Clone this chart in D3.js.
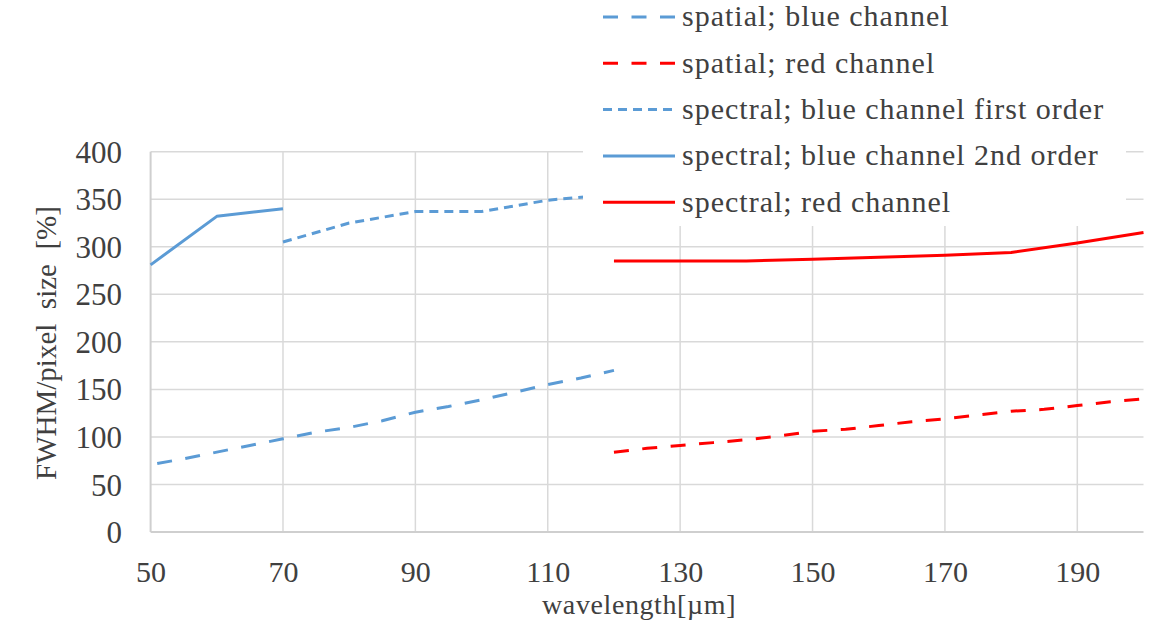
<!DOCTYPE html>
<html><head><meta charset="utf-8">
<script src="https://cdn.jsdelivr.net/npm/d3@7"></script>
<style>
html,body{margin:0;padding:0;background:#fff;}
svg{display:block;}
text{font-family:"Liberation Serif","Times New Roman","DejaVu Serif",serif;fill:#404040;}
</style></head>
<body>
<svg id="chart" width="1158" height="620"></svg>
<script>
// ---- data ----
const xTicks = [50, 70, 90, 110, 130, 150, 170, 190];
const yTicks = [0, 50, 100, 150, 200, 250, 300, 350, 400];
const xLabel = "wavelength[\u00b5m]";
const yLabel = "FWHM/pixel  size  [%]";

const spatialBlueX = [51, 55, 60, 65, 70, 75, 80, 85, 90, 95, 100, 105, 110, 115, 120];
const spatialBlueY = [72, 77, 84, 91, 98, 105, 110, 117, 126, 132, 139, 147, 155, 162, 170];

const spatialRedX = [120, 125, 130, 135, 140, 145, 150, 155, 160, 165, 170, 175, 180, 185, 190, 195, 200];
const spatialRedY = [84, 88, 91, 94, 97, 101, 106, 108, 112, 116, 119, 123, 127, 129, 133, 137, 140];

const spectralBlue1X = [70, 80, 90, 100, 110, 120];
const spectralBlue1Y = [305, 325, 337, 337, 349, 355];

const spectralBlue2X = [50, 60, 70];
const spectralBlue2Y = [281, 332, 340];

const spectralRedX = [120, 130, 140, 150, 160, 170, 180, 190, 200];
const spectralRedY = [285, 285, 285, 287, 289, 291, 294, 304, 315];

const seriesNames = [
  "spatial; blue channel",
  "spatial; red channel",
  "spectral; blue channel first order",
  "spectral; blue channel 2nd order",
  "spectral; red channel"
];

// ---- styles ----
const BLUE = "#5b9bd5", RED = "#ff0000";
const FONT = '"Liberation Serif","Times New Roman","DejaVu Serif",serif';
const series = [
  {name: seriesNames[0], xs: spatialBlueX, ys: spatialBlueY, color: BLUE, dash: "15,13.5"},
  {name: seriesNames[1], xs: spatialRedX, ys: spatialRedY, color: RED, dash: "15,13.5"},
  {name: seriesNames[2], xs: spectralBlue1X, ys: spectralBlue1Y, color: BLUE, dash: "9,6"},
  {name: seriesNames[3], xs: spectralBlue2X, ys: spectralBlue2Y, color: BLUE, dash: null},
  {name: seriesNames[4], xs: spectralRedX, ys: spectralRedY, color: RED, dash: null}
];

const svg = d3.select("#chart");
const L = 150.6, R = 1143.5, T = 151.7, B = 532;
const x = d3.scaleLinear().domain([50, 200]).range([L, R]);
const y = d3.scaleLinear().domain([0, 400]).range([B, T]);

// gridlines
const grid = svg.append("g");
grid.selectAll("line.h").data(yTicks.filter(d => d > 0)).join("line")
  .attr("x1", L).attr("x2", R).attr("y1", d => y(d)).attr("y2", d => y(d))
  .attr("stroke", "#d9d9d9").attr("stroke-width", 1.5);
grid.selectAll("line.v").data(xTicks.filter(d => d > 50)).join("line")
  .attr("y1", T).attr("y2", B).attr("x1", d => x(d)).attr("x2", d => x(d))
  .attr("stroke", "#d9d9d9").attr("stroke-width", 1.5);

// axes lines
svg.append("line").attr("x1", L).attr("x2", R).attr("y1", B).attr("y2", B)
  .attr("stroke", "#cfcfcf").attr("stroke-width", 2);
svg.append("line").attr("x1", L).attr("x2", L).attr("y1", T).attr("y2", B)
  .attr("stroke", "#cfcfcf").attr("stroke-width", 2);

// axes via d3 (labels only)
const xAxis = svg.append("g").attr("transform", `translate(0,${B})`)
  .call(d3.axisBottom(x).tickValues(xTicks).tickSize(0).tickPadding(0).tickFormat(d3.format("d")));
xAxis.attr("font-family", null);
xAxis.select(".domain").remove();
xAxis.selectAll("text").attr("y", 50).attr("dy", 0)
  .style("font-size", "30px").style("font-family", FONT).attr("fill", "#404040");

const yAxis = svg.append("g").attr("transform", `translate(${L},0)`)
  .call(d3.axisLeft(y).tickValues(yTicks).tickSize(0).tickPadding(0).tickFormat(d3.format("d")));
yAxis.attr("font-family", null);
yAxis.select(".domain").remove();
yAxis.selectAll("text").attr("x", -28.5).attr("dy", "0.34em")
  .style("font-size", "31px").style("font-family", FONT).attr("fill", "#404040");

// titles
svg.append("text").attr("x", (L + R) / 2 - 8).attr("y", 613.5).attr("text-anchor", "middle")
  .style("font-size", "28px").style("letter-spacing", "0.6px").text(xLabel);
svg.append("text").attr("transform", "translate(56,343) rotate(-90)").attr("text-anchor", "middle")
  .style("font-size", "29px").style("white-space", "pre").text(yLabel);

// lines
const lineGen = d3.line().x(d => x(d[0])).y(d => y(d[1]));
const lines = svg.append("g");
series.forEach(s => {
  const pts = s.xs.map((v, i) => [v, s.ys[i]]);
  lines.append("path").datum(pts).attr("d", lineGen)
    .attr("fill", "none").attr("stroke", s.color).attr("stroke-width", 3)
    .attr("stroke-linejoin", "round")
    .attr("stroke-dasharray", s.dash);
});

// legend (opaque box over plot)
const lg = svg.append("g");
lg.append("rect").attr("x", 583).attr("y", 0).attr("width", 543).attr("height", 226).attr("fill", "#fff");
series.forEach((s, i) => {
  const cy = 17 + i * 46.3;
  lg.append("line").attr("x1", 603).attr("x2", 675).attr("y1", cy).attr("y2", cy)
    .attr("stroke", s.color).attr("stroke-width", 3).attr("stroke-dasharray", s.dash);
  lg.append("text").attr("x", 682).attr("y", cy).attr("dy", "0.31em")
    .style("font-size", "30px").style("letter-spacing", "1px").text(s.name);
});
</script>
</body></html>
